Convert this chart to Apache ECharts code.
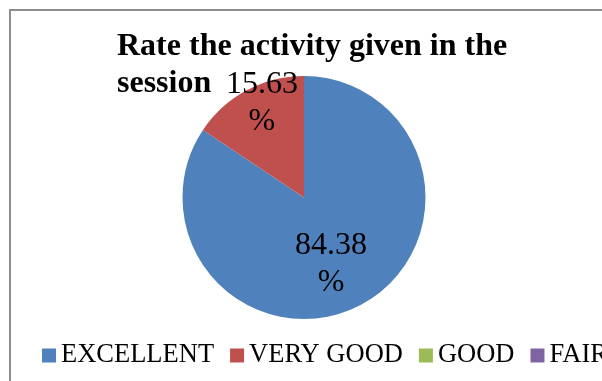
<!DOCTYPE html>
<html>
<head>
<meta charset="utf-8">
<script src="https://cdn.jsdelivr.net/npm/echarts@6/dist/echarts.min.js"></script>
<style>
html,body{margin:0;padding:0;overflow:hidden;background:#fff;}
#chart{width:602px;height:381px;}
</style>
</head>
<body>
<div id="chart"></div>
<script>
const categories = ['EXCELLENT', 'VERY GOOD', 'GOOD', 'FAIR'];
const values = [84.38, 15.63, 0, 0];
const colors = ['#4F81BD', '#C0504D', '#9BBB59', '#8064A2'];
const titleText = 'Rate the activity given in the\nsession';

const chart = echarts.init(document.getElementById('chart'), null, {renderer: 'canvas'});
const labelOffsets = [[-3, 10], [-12, -38], [0, 0], [0, 0]];
const data = categories.map((c, i) => ({
  name: c,
  value: values[i],
  itemStyle: {color: colors[i]},
  label: {show: values[i] > 0, offset: labelOffsets[i]}
}));

chart.setOption({
  animation: false,
  graphic: [{
    type: 'rect',
    shape: {x: 10, y: 10, width: 700, height: 500},
    style: {fill: 'none', stroke: '#8c8c8c', lineWidth: 2},
    z: -10
  }],
  title: {
    text: titleText,
    left: 112,
    top: 23,
    textStyle: {
      fontFamily: 'Liberation Serif',
      fontWeight: 'bold',
      fontSize: 32,
      lineHeight: 37,
      color: '#000'
    }
  },
  legend: {
    left: 37,
    top: 337,
    width: 2000,
    itemWidth: 14,
    itemHeight: 14,
    itemGap: 16,
    icon: 'rect',
    data: categories,
    textStyle: {
      fontFamily: 'Liberation Serif',
      fontSize: 26.5,
      color: '#000',
      padding: [0, 0, 0, 0]
    }
  },
  series: [{
    type: 'pie',
    center: [304, 197.5],
    radius: 121.5,
    startAngle: 90,
    clockwise: true,
    avoidLabelOverlap: false,
    minShowLabelAngle: 0,
    stillShowZeroSum: false,
    label: {
      position: 'inside',
      formatter: p => p.value.toFixed(2) + '\n%',
      fontFamily: 'Liberation Serif',
      fontSize: 32,
      lineHeight: 37,
      color: '#000'
    },
    labelLine: {show: false},
    itemStyle: {borderWidth: 0},
    emphasis: {disabled: true},
    data: data
  }]
});
</script>
</body>
</html>
